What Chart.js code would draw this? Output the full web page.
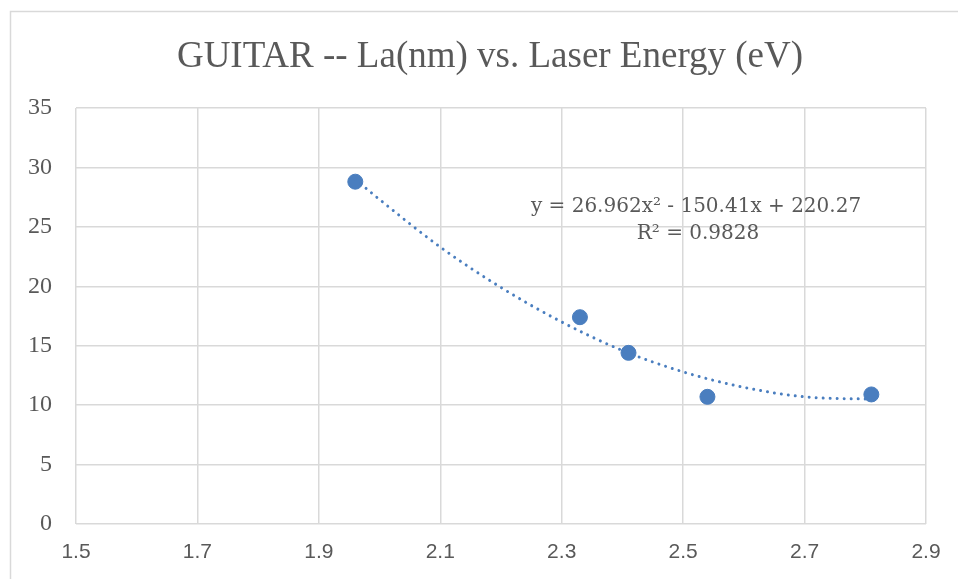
<!DOCTYPE html>
<html>
<head>
<meta charset="utf-8">
<script src="https://cdn.jsdelivr.net/npm/chart.js@4/dist/chart.umd.min.js"></script>
<style>
  html, body { margin: 0; padding: 0; background: #fff; }
  #wrap { width: 958px; height: 579px; position: relative; }
</style>
</head>
<body>
<div id="wrap"><canvas id="chart" width="958" height="579"></canvas></div>
<script>
// measured points: laser energy (eV) vs La (nm)
const energy = [1.96, 2.33, 2.41, 2.54, 2.81];
const laNm = [28.8, 17.4, 14.4, 10.7, 10.9];

// dotted poly trendline
const trendX = [1.96, 2.0, 2.1, 2.2, 2.3, 2.4, 2.5, 2.6, 2.7, 2.81];
const trendY = [29.0, 27.3, 23.3, 19.9, 17.0, 14.6, 12.8, 11.5, 10.7, 10.5];

const xTicks = [1.5, 1.7, 1.9, 2.1, 2.3, 2.5, 2.7, 2.9];
const yTicks = [0, 5, 10, 15, 20, 25, 30, 35];

const titleText = 'GUITAR -- La(nm) vs. Laser Energy (eV)';
const eqLine1 = 'y = 26.962x² - 150.41x + 220.27';
const eqLine2 = 'R² = 0.9828';

const blue = '#4a7ebf';
const grey = '#595959';
const gridColor = '#d9d9d9';
const serif = '"Liberation Serif", "DejaVu Serif", serif';
const sans = '"Liberation Sans", "Open Sans", sans-serif';

// chart frame, title and trendline label
const decorations = {
  id: 'decorations',
  beforeDraw(chart) {
    const c = chart.ctx;
    c.save();
    c.fillStyle = '#fff';
    c.fillRect(0, 0, chart.width, chart.height);
    c.strokeStyle = gridColor;
    c.lineWidth = 1.5;
    c.beginPath();
    c.moveTo(10.5, chart.height + 2);
    c.lineTo(10.5, 11.5);
    c.lineTo(chart.width + 2, 11.5);
    c.stroke();
    c.restore();
  },
  afterDraw(chart) {
    const c = chart.ctx;
    c.save();
    c.fillStyle = grey;
    c.textAlign = 'center';
    c.textBaseline = 'alphabetic';
    c.font = '37px ' + serif;
    c.fillText(titleText, 490, 67);
    c.font = '20px "DejaVu Serif", serif';
    c.fillText(eqLine1, 696, 212);
    c.fillText(eqLine2, 698, 239);
    c.restore();
  }
};

new Chart(document.getElementById('chart'), {
  type: 'scatter',
  data: {
    datasets: [{
      label: 'Trend',
      data: trendX.map((x, i) => ({ x, y: trendY[i] })),
      showLine: true,
      borderColor: blue,
      borderWidth: 3,
      borderDash: [0.01, 7],
      borderCapStyle: 'round',
      cubicInterpolationMode: 'monotone',
      pointRadius: 0,
      order: 1
    }, {
      label: 'La(nm)',
      data: energy.map((x, i) => ({ x, y: laNm[i] })),
      backgroundColor: blue,
      borderColor: blue,
      pointRadius: 7.5,
      order: 2
    }]
  },
  options: {
    responsive: false,
    animation: false,
    layout: { padding: { left: 0, top: 108, right: 32, bottom: 0 } },
    plugins: {
      legend: { display: false },
      tooltip: { enabled: false }
    },
    scales: {
      x: {
        type: 'linear',
        min: 1.5,
        max: 2.9,
        afterBuildTicks: axis => { axis.ticks = xTicks.map(v => ({ value: v })); },
        afterFit: axis => { axis.height = 55; },
        grid: { color: gridColor, lineWidth: 1.5, drawTicks: false },
        border: { display: false },
        ticks: {
          color: grey,
          padding: 16,
          font: { family: sans, size: 21 },
          callback: v => v.toFixed(1)
        }
      },
      y: {
        min: 0,
        max: 35,
        afterBuildTicks: axis => { axis.ticks = yTicks.map(v => ({ value: v })); },
        afterFit: axis => { axis.width = 76; },
        grid: { color: gridColor, lineWidth: 1.5, drawTicks: false },
        border: { display: false },
        ticks: {
          color: grey,
          padding: 24,
          font: { family: serif, size: 24 }
        }
      }
    }
  },
  plugins: [decorations]
});
</script>
</body>
</html>
